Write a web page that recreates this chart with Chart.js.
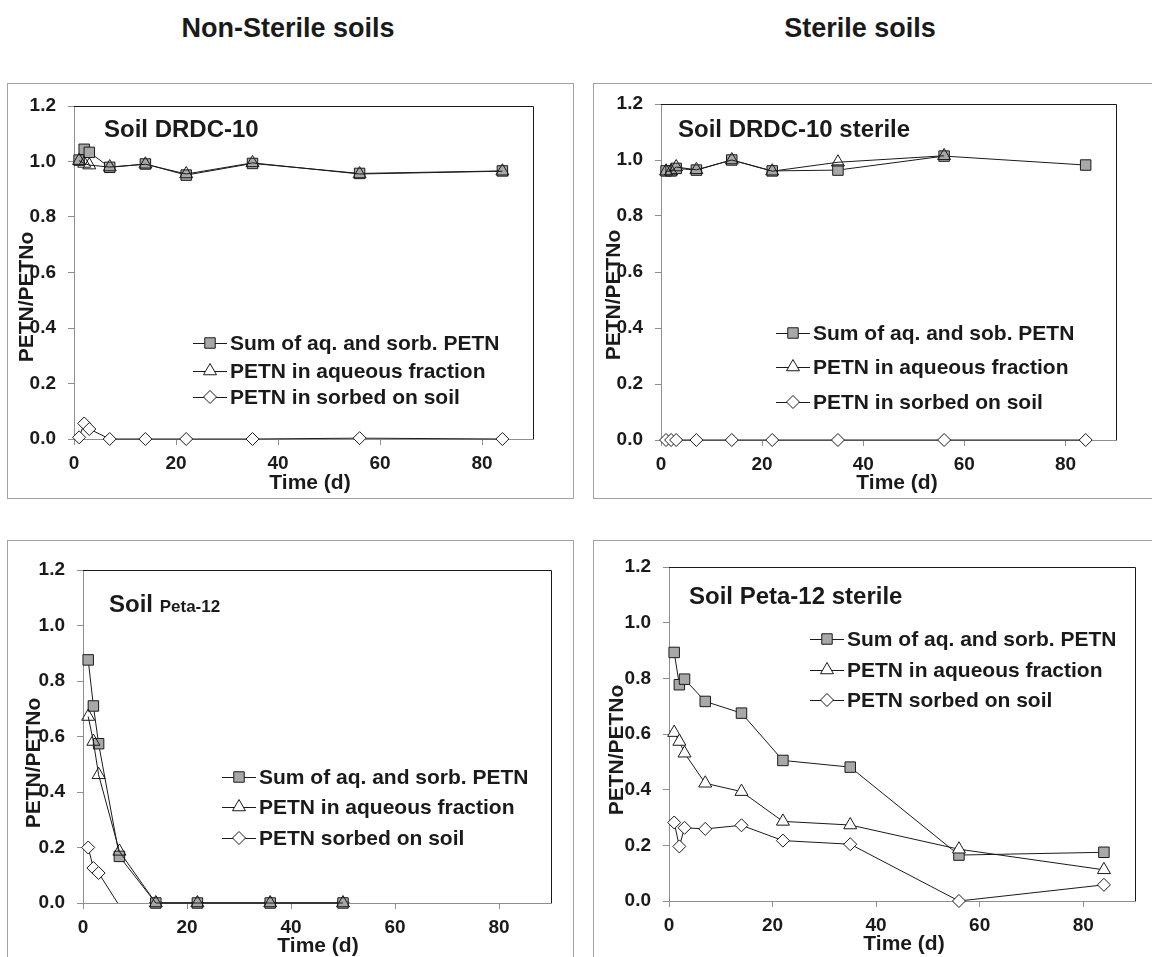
<!DOCTYPE html>
<html>
<head>
<meta charset="utf-8">
<script src="https://cdn.jsdelivr.net/npm/chart.js@4"></script>
<style>
  html, body { margin: 0; padding: 0; background: #fff; }
  body { width: 1152px; height: 957px; position: relative; overflow: hidden;
         font-family: "Liberation Sans", Arial, Helvetica, sans-serif; }
  .frame { position: absolute; border: 1px solid #a3a3a3; box-sizing: border-box; }
  canvas { position: absolute; left: 0; top: 0; }
  .head { position: absolute; font-weight: bold; font-size: 27px; color: #1a1a1a;
          transform: translate(-50%, -50%); white-space: nowrap; }
</style>
</head>
<body>
<div class="head" style="left:288px;top:28px">Non-Sterile soils</div>
<div class="head" style="left:860px;top:28px">Sterile soils</div>

<div class="frame" style="left:7px;top:83px;width:567px;height:416px"></div>
<div class="frame" style="left:593px;top:83px;width:580px;height:416px"></div>
<div class="frame" style="left:7px;top:540px;width:567px;height:440px"></div>
<div class="frame" style="left:593px;top:540px;width:580px;height:440px"></div>

<canvas id="c1" width="1152" height="957"></canvas>
<canvas id="c2" width="1152" height="957"></canvas>
<canvas id="c3" width="1152" height="957"></canvas>
<canvas id="c4" width="1152" height="957"></canvas>

<script>
// ---- data: PETN / PETNo versus time (days) ----
const daysDRDC = [1, 2, 3, 7, 14, 22, 35, 56, 84];
const drdcSum = [1.005, 1.044, 1.033, 0.979, 0.991, 0.951, 0.993, 0.957, 0.966];
const drdcAq = [1.003, 0.993, 0.987, 0.980, 0.990, 0.955, 0.995, 0.955, 0.965];
const drdcSorbed = [0.006, 0.056, 0.036, 0.0, 0.0, 0.0, 0.0, 0.003, 0.0];

const daysDRDCSterile = [1, 2, 3, 7, 14, 22, 35, 56, 84];
const drdcSterileSum = [0.961, 0.961, 0.970, 0.964, 1.000, 0.961, 0.964, 1.014, 0.982];
const drdcSterileAq = [0.960, 0.960, 0.975, 0.965, 1.000, 0.960, 0.992, 1.015, null];
const drdcSterileSorbed = [0, 0, 0, 0, 0, 0, 0, 0, 0];

const daysPeta = [1, 2, 3, 7, 14, 22, 36, 50];
const petaSum = [0.876, 0.710, 0.574, 0.168, 0, 0, 0, 0];
const petaAq = [0.672, 0.582, 0.462, 0.186, 0, 0, 0, 0];
const petaSorbed = [0.200, 0.126, 0.108, -0.010, 0, 0, 0, 0];

const daysPetaSterile = [1, 2, 3, 7, 14, 22, 35, 56, 84];
const petaSterileSum = [0.893, 0.777, 0.797, 0.717, 0.675, 0.505, 0.481, 0.165, 0.175];
const petaSterileAq = [0.605, 0.573, 0.531, 0.423, 0.393, 0.286, 0.273, 0.186, 0.112];
const petaSterileSorbed = [0.282, 0.196, 0.263, 0.259, 0.272, 0.217, 0.204, 0.0, 0.058];

const yTickValues = [0, 0.2, 0.4, 0.6, 0.8, 1.0, 1.2];
const xTickValues = [0, 20, 40, 60, 80];

const legendDRDC = ['Sum of aq. and sorb. PETN', 'PETN in aqueous fraction', 'PETN in sorbed on soil'];
const legendDRDCSterile = ['Sum of aq. and sob. PETN', 'PETN in aqueous fraction', 'PETN in sorbed on soil'];
const legendPeta = ['Sum of aq. and sorb. PETN', 'PETN in aqueous fraction', 'PETN sorbed on soil'];

// ---- styling ----
const FONT = '"Liberation Sans", Arial, Helvetica, sans-serif';
const INK = '#1a1a1a';
const AXIS = '#8f8f8f';
const MARK = {
  sum:    { style: 'rect',     radius: 7.4, fill: '#a8a8a8' },
  aq:     { style: 'triangle', radius: 7.5, fill: '#ffffff' },
  sorbed: { style: 'rectRot',  radius: 6.5, fill: '#ffffff' }
};

// ---- layout of the four panels (page pixels) ----
const panels = [
  { id: 'c1', area: { left: 74, top: 106, right: 533, bottom: 439 },
    days: daysDRDC, sum: drdcSum, aq: drdcAq, sorbed: drdcSorbed, legend: legendDRDC,
    title: [{ text: 'Soil DRDC-10 ', size: 24 }], titleAt: { x: 104, y: 129 },
    legendAt: { x: 193, rows: [343, 371, 397] },
    yTitleAt: { x: 27, y: 297 }, xTitleAt: { x: 310, y: 483 },
    aqFill: 'rgba(255,255,255,0)', clipBottom: false },
  { id: 'c2', area: { left: 661, top: 104, right: 1116, bottom: 440 },
    days: daysDRDCSterile, sum: drdcSterileSum, aq: drdcSterileAq, sorbed: drdcSterileSorbed, legend: legendDRDCSterile,
    title: [{ text: 'Soil DRDC-10 sterile', size: 24 }], titleAt: { x: 678, y: 129 },
    legendAt: { x: 776, rows: [333, 367, 402] },
    yTitleAt: { x: 614, y: 295 }, xTitleAt: { x: 897, y: 483 },
    aqFill: 'rgba(255,255,255,0)', clipBottom: false },
  { id: 'c3', area: { left: 83, top: 570, right: 551, bottom: 903 },
    days: daysPeta, sum: petaSum, aq: petaAq, sorbed: petaSorbed, legend: legendPeta,
    title: [{ text: 'Soil ', size: 24 }, { text: 'Peta-12', size: 17 }], titleAt: { x: 109, y: 604 },
    legendAt: { x: 222, rows: [777, 807, 838] },
    yTitleAt: { x: 34, y: 763 }, xTitleAt: { x: 318, y: 946 },
    aqFill: 'rgba(255,255,255,0)', clipBottom: true },
  { id: 'c4', area: { left: 669, top: 567, right: 1135, bottom: 901 },
    days: daysPetaSterile, sum: petaSterileSum, aq: petaSterileAq, sorbed: petaSterileSorbed, legend: legendPeta,
    title: [{ text: 'Soil Peta-12 sterile', size: 24 }], titleAt: { x: 689, y: 596 },
    legendAt: { x: 810, rows: [639, 670, 700] },
    yTitleAt: { x: 617, y: 750 }, xTitleAt: { x: 904, y: 944 },
    aqFill: '#ffffff', clipBottom: false }
];

// marker path matching Chart.js point geometry
function markerPath(ctx, style, r, x, y) {
  ctx.beginPath();
  if (style === 'rect') {
    const s = r * Math.SQRT1_2;
    ctx.rect(x - s, y - s, 2 * s, 2 * s);
  } else if (style === 'rectRot') {
    ctx.moveTo(x - r, y); ctx.lineTo(x, y - r); ctx.lineTo(x + r, y); ctx.lineTo(x, y + r);
    ctx.closePath();
  } else {
    let a = 0;
    ctx.moveTo(x + Math.sin(a) * r, y - Math.cos(a) * r);
    a += 2 * Math.PI / 3;
    ctx.lineTo(x + Math.sin(a) * r, y - Math.cos(a) * r);
    a += 2 * Math.PI / 3;
    ctx.lineTo(x + Math.sin(a) * r, y - Math.cos(a) * r);
    ctx.closePath();
  }
}

function points(days, values) {
  return days.map((d, i) => ({ x: d, y: values[i] }));
}

function makePanel(p) {
  const YW = 60, XH = 50;
  const a = p.area;
  const keys = ['sum', 'aq', 'sorbed'];

  const dataset = (key, values, label, fill, clip) => ({
    label,
    data: points(p.days, values),
    borderColor: INK,
    borderWidth: 1,
    pointStyle: MARK[key].style,
    pointRadius: c => (c.raw && c.raw.y !== null && c.raw.y < 0) ? 0 : MARK[key].radius,
    pointBorderColor: INK,
    pointBorderWidth: 1,
    pointBackgroundColor: fill,
    tension: 0,
    spanGaps: false,
    clip
  });

  const noClip = false;
  const sorbedClip = p.clipBottom ? { left: false, top: false, right: false, bottom: 0 } : noClip;

  const decor = {
    id: 'decor' + p.id,
    afterDatasetsDraw(chart) {
      const ctx = chart.ctx;
      const ca = chart.chartArea;
      ctx.save();
      // dark top and right edges of the plot box
      ctx.strokeStyle = INK;
      ctx.lineWidth = 1;
      ctx.beginPath();
      ctx.moveTo(ca.left, ca.top + 0.5);
      ctx.lineTo(ca.right + 0.5, ca.top + 0.5);
      ctx.lineTo(ca.right + 0.5, ca.bottom);
      ctx.stroke();

      // panel title
      ctx.fillStyle = INK;
      ctx.textBaseline = 'alphabetic';
      ctx.textAlign = 'left';
      let tx = p.titleAt.x;
      const base = p.titleAt.y + 8;
      p.title.forEach(part => {
        ctx.font = 'bold ' + part.size + 'px ' + FONT;
        ctx.fillText(part.text, tx, base);
        tx += ctx.measureText(part.text).width;
      });

      // legend
      ctx.font = 'bold 21px ' + FONT;
      ctx.textBaseline = 'middle';
      keys.forEach((k, i) => {
        const y = p.legendAt.rows[i];
        const x0 = p.legendAt.x, x1 = x0 + 34, xm = (x0 + x1) / 2;
        ctx.strokeStyle = INK;
        ctx.lineWidth = 1;
        ctx.beginPath();
        ctx.moveTo(x0, y + 0.5); ctx.lineTo(x1, y + 0.5);
        ctx.stroke();
        markerPath(ctx, MARK[k].style, MARK[k].radius, xm, y);
        ctx.fillStyle = MARK[k].fill;
        ctx.fill();
        ctx.stroke();
        ctx.fillStyle = INK;
        ctx.fillText(p.legend[i], x1 + 3, y + 1);
      });

      // axis titles
      ctx.font = 'bold 21px ' + FONT;
      ctx.textAlign = 'center';
      ctx.textBaseline = 'middle';
      ctx.fillText('Time (d)', p.xTitleAt.x, p.xTitleAt.y);
      ctx.translate(p.yTitleAt.x, p.yTitleAt.y);
      ctx.rotate(-Math.PI / 2);
      ctx.fillText('PETN/PETNo', 0, 0);
      ctx.restore();
    }
  };

  const tickFont = { family: FONT, size: 19, weight: 'bold' };

  new Chart(document.getElementById(p.id), {
    type: 'line',
    data: {
      datasets: [
        dataset('aq', p.aq, p.legend[1], p.aqFill, noClip),
        dataset('sum', p.sum, p.legend[0], MARK.sum.fill, noClip),
        dataset('sorbed', p.sorbed, p.legend[2], MARK.sorbed.fill, sorbedClip)
      ]
    },
    options: {
      responsive: false,
      animation: false,
      devicePixelRatio: 1,
      events: [],
      layout: {
        padding: { left: a.left - YW, top: a.top, right: 1152 - a.right, bottom: 957 - a.bottom - XH }
      },
      plugins: { legend: { display: false }, tooltip: { enabled: false } },
      scales: {
        x: {
          type: 'linear', min: 0, max: 90,
          afterFit: s => { s.height = XH; },
          afterBuildTicks: s => { s.ticks = xTickValues.map(v => ({ value: v })); },
          grid: { drawOnChartArea: false, drawTicks: true, tickLength: 6, color: AXIS },
          border: { display: true, color: AXIS, width: 1 },
          ticks: { font: tickFont, color: INK, padding: 7, autoSkip: false, maxRotation: 0,
                   callback: v => String(v) }
        },
        y: {
          type: 'linear', min: 0, max: 1.2,
          afterFit: s => { s.width = YW; },
          afterBuildTicks: s => { s.ticks = yTickValues.map(v => ({ value: v })); },
          grid: { drawOnChartArea: false, drawTicks: true, tickLength: 6, color: AXIS },
          border: { display: true, color: AXIS, width: 1 },
          ticks: { font: tickFont, color: INK, padding: 12, autoSkip: false,
                   callback: v => Number(v).toFixed(1) }
        }
      }
    },
    plugins: [decor]
  });
}

panels.forEach(makePanel);
</script>
</body>
</html>
